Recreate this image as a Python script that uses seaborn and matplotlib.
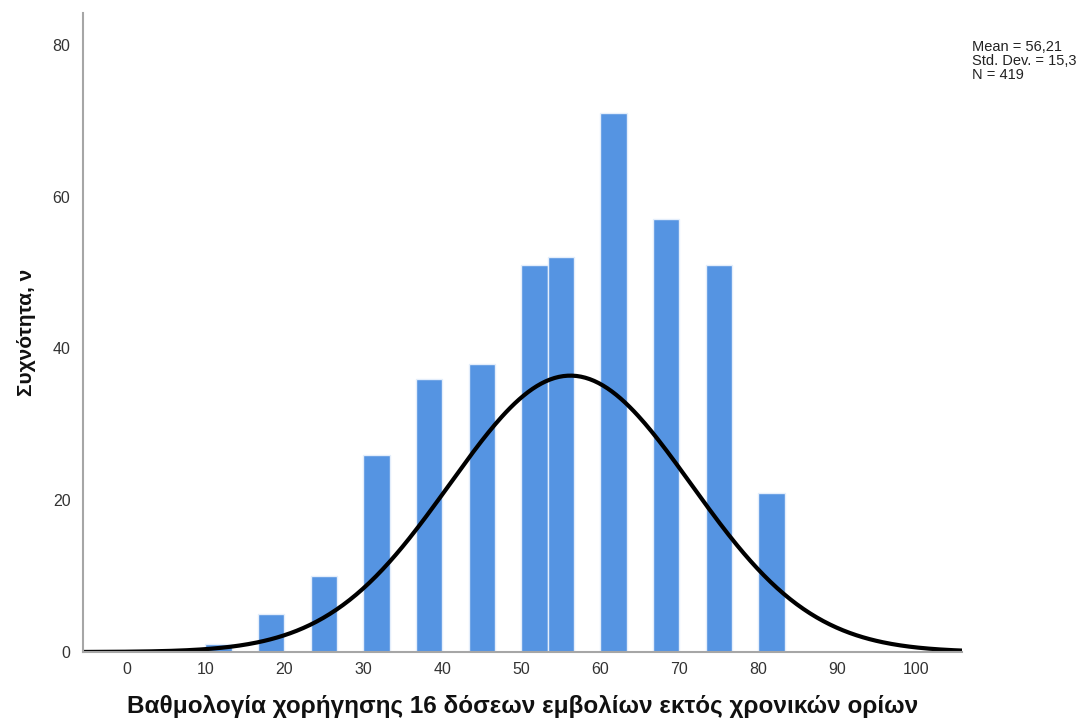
import numpy as np
import pandas as pd
import matplotlib
matplotlib.use("Agg")
import matplotlib.pyplot as plt
import seaborn as sns

# Βαθμολογία = 100 * (δόσεις εκτός ορίων) / 16, συχνότητες από το γράφημα
scores = [12.5, 18.75, 25.0, 31.25, 37.5, 43.75, 50.0, 56.25, 62.5, 68.75, 75.0, 81.25]
counts = [1, 5, 10, 26, 36, 38, 51, 52, 71, 57, 51, 21]
mean_val = 56.21
std_val = 15.3
n_val = 419
bin_w = 10 / 3

df = pd.DataFrame({"score": scores, "count": counts})

sns.set_theme(style="white")
plt.rcParams["font.family"] = ["Liberation Sans", "DejaVu Sans"]

fig = plt.figure(figsize=(10.92, 7.2), dpi=100)
ax = fig.add_axes([0.076, 0.0944, 0.805, 0.8876])

sns.histplot(data=df, x="score", weights="count", binwidth=bin_w,
             binrange=(10 - 1e-6, 10 + 22 * bin_w), color="#5594e2",
             alpha=1, edgecolor="#e4eefb", linewidth=1.0, ax=ax)

# normal curve scaled to counts
xs = np.linspace(-5.5, 105.8, 400)
ys = n_val * bin_w * np.exp(-0.5 * ((xs - mean_val) / std_val) ** 2) / (std_val * np.sqrt(2 * np.pi))
sns.lineplot(x=xs, y=ys, color="black", linewidth=3.0, ax=ax)

ax.set_xlim(-5.5, 105.8)
ax.set_ylim(0, 84.2)
ax.set_xticks(range(0, 101, 10))
ax.set_yticks(range(0, 81, 20))
ax.tick_params(axis="both", length=0, labelsize=11.5, labelcolor="#333333")
ax.tick_params(axis="x", pad=7)
ax.tick_params(axis="y", pad=9)

for s in ["top", "right"]:
    ax.spines[s].set_visible(False)
for s in ["left", "bottom"]:
    ax.spines[s].set_color("#a6a6a6")
    ax.spines[s].set_linewidth(1.5)

ax.set_xlabel("Βαθμολογία χορήγησης 16 δόσεων εμβολίων εκτός χρονικών ορίων",
              fontsize=17.5, fontweight="bold", color="#111111", labelpad=13)
ax.set_ylabel("Συχνότητα, ν", fontsize=15, fontweight="bold", color="#111111")
ax.yaxis.set_label_coords(-0.053, 0.5)

fig.text(0.890, 0.945, f"Mean = 56,21\nStd. Dev. = 15,3\nN = {n_val}",
         fontsize=10.5, color="#222222", va="top", ha="left", linespacing=1.0)

fig.savefig("out.png", dpi=100)
